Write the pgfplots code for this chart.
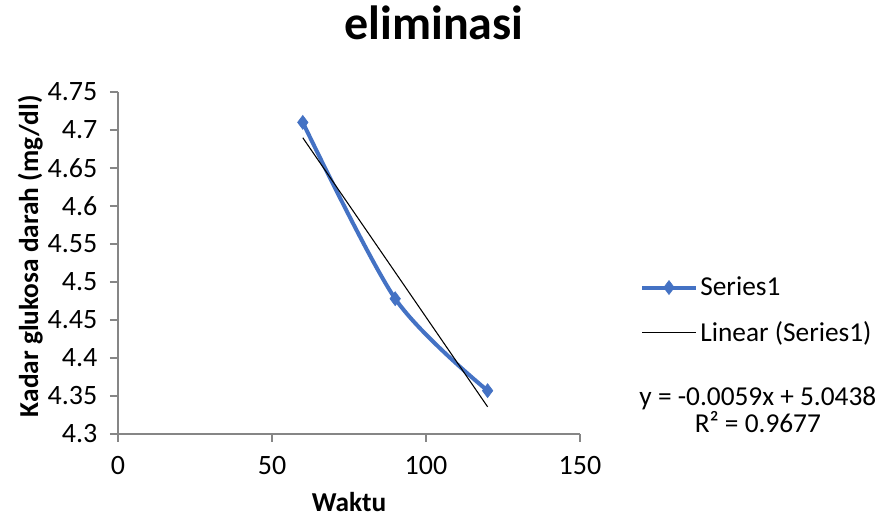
\documentclass[border=0pt]{standalone}
\usepackage{pgfplots}
\pgfplotsset{compat=1.18}
\usepackage{fontspec}
\setmainfont{Carlito}
\definecolor{serblue}{HTML}{4472C4}
\definecolor{axgray}{HTML}{868686}
\begin{document}
\begin{tikzpicture}[x=0.75pt,y=0.75pt]
% canvas
\path[fill=white] (0,0) rectangle (882,520);
\begin{axis}[
  at={(118*0.75pt,86*0.75pt)}, anchor=origin,
  scale only axis,
  width=346.5pt, height=256.5pt,
  xmin=0, xmax=150, ymin=4.3, ymax=4.75,
  xtick={0,50,100,150},
  ytick={4.3,4.35,...,4.75},
  axis x line*=bottom, axis y line*=left,
  axis line style={axgray, line width=0.9pt, -},
  tick style={axgray, line width=0.9pt},
  tick align=outside, major tick length=6pt,
  tick label style={font=\fontsize{21}{23}\selectfont, black},
  /pgf/number format/assume math mode=true,
  yticklabel style={/pgf/number format/fixed, /pgf/number format/precision=2, xshift=-6pt},
  xticklabel style={yshift=-7pt},
  title={\bfseries eliminasi},
  title style={font=\fontsize{36}{40}\selectfont, at={(0.684,1)}, anchor=base, yshift=33pt},
  xlabel={\bfseries Waktu},
  ylabel={\bfseries Kadar glukosa darah (mg/dl)},
  label style={font=\fontsize{20.5}{22}\selectfont},
  xlabel style={at={(axis description cs:0.5,-0.2)}, anchor=center},
  ylabel style={at={(axis description cs:-0.19,0.52)}, anchor=center},
  legend style={at={(1.13,0.361)}, anchor=west, draw=none, fill=none,
    font=\fontsize{20.5}{22}\selectfont, row sep=14pt, inner sep=0pt,
    nodes={inner sep=2pt}},
  legend cell align=left,
  legend image code/.code={
    \draw[mark repeat=2, mark phase=2]
      plot coordinates {(0pt,0pt) (20pt,0pt) (40pt,0pt)};},
  clip=false,
]
\addplot[serblue, line width=3pt, smooth, tension=0.5,
  mark=diamond*, mark size=5.2pt, mark options={fill=serblue, draw=serblue, line width=0.5pt}]
  coordinates {(60,4.71) (90,4.478) (120,4.357)};
\addlegendentry{Series1}
\addplot[black, line width=0.8pt] coordinates {(60,4.6898) (120,4.3358)};
\addlegendentry{Linear (Series1)}
\node[font=\fontsize{20.5}{18}\selectfont, align=center, anchor=center]
  at (rel axis cs:1.385,0.07) {y = -0.0059x + 5.0438\\ R² = 0.9677};
\end{axis}
\end{tikzpicture}
\end{document}
